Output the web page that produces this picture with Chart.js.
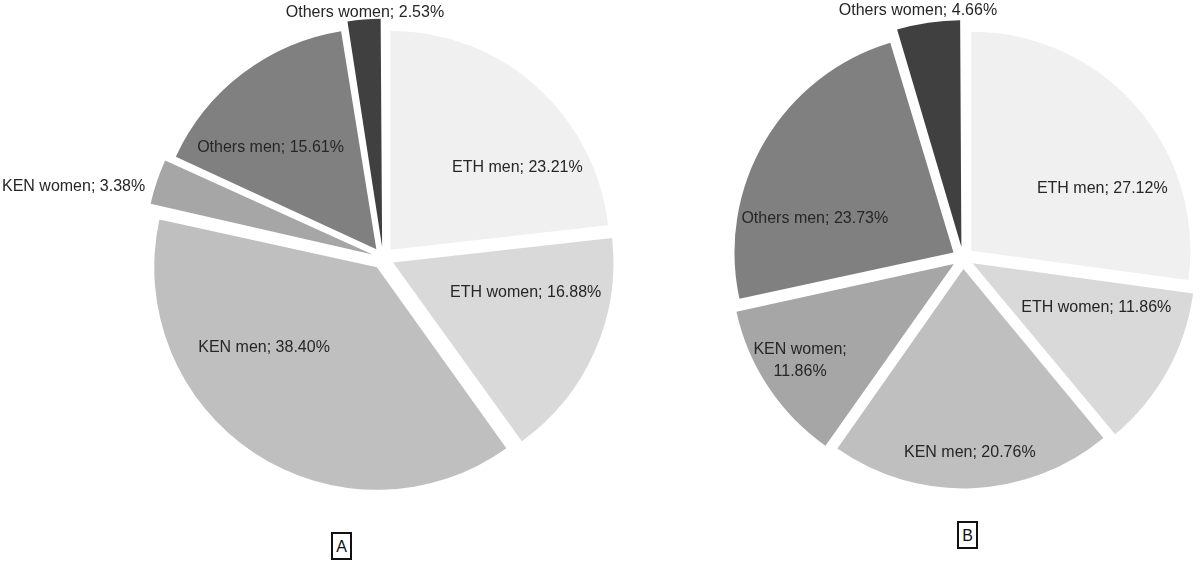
<!DOCTYPE html>
<html>
<head>
<meta charset="utf-8">
<script src="https://cdn.jsdelivr.net/npm/chart.js@4.4.1/dist/chart.umd.min.js"></script>
<style>
  body { margin: 0; background: #fff; width: 1200px; height: 563px; position: relative; overflow: hidden; }
  .pie { position: absolute; top: 0; height: 516px; }
  #wrapA { left: 0; width: 766px; }
  #wrapB { left: 726px; width: 474px; }
  .tag { position: absolute; border: 2px solid #111; font: 16px "Liberation Sans", Arial, sans-serif;
         color: #111; width: 17px; height: 24px; line-height: 25px; text-align: center; }
</style>
</head>
<body>
<div id="wrapA" class="pie"><canvas id="pieA"></canvas></div>
<div id="wrapB" class="pie"><canvas id="pieB"></canvas></div>
<div class="tag" style="left:331px; top:532px;">A</div>
<div class="tag" style="left:957px; top:521px;">B</div>
<script>
// data
const categories = ['ETH men', 'ETH women', 'KEN men', 'KEN women', 'Others men', 'Others women'];
const sharesA = [23.21, 16.88, 38.40, 3.38, 15.61, 2.53];
const sharesB = [27.12, 11.86, 20.76, 11.86, 23.73, 4.66];

const sliceColors = ['#f0f0f0', '#d9d9d9', '#bfbfbf', '#a6a6a6', '#808080', '#404040'];

// where each label sits: [degrees clockwise from top, fraction of radius]
const labelPosA = [[56, 0.74], [103.5, 0.67], [233, 0.68], [283, 1.45], [314.5, 0.72], [355.8, 1.125]];
const labelPosB = [[63.6, 0.71], [110.5, 0.65], [178, 0.89], [237.7, 0.88], [284.8, 0.70], [349.7, 1.15]];
const wrapB = [false, false, false, true, false, false];

const sliceLabels = {
  id: 'sliceLabels',
  afterDatasetsDraw(chart, args, opts) {
    const meta = chart.getDatasetMeta(0);
    const first = meta.data[0];
    const cx = first.x, cy = first.y, r = first.outerRadius;
    const values = chart.data.datasets[0].data;
    const ctx = chart.ctx;
    ctx.save();
    ctx.font = '16px "Liberation Sans", Arial, sans-serif';
    ctx.fillStyle = '#262626';
    ctx.textAlign = 'center';
    ctx.textBaseline = 'middle';
    values.forEach((v, i) => {
      const a = opts.pos[i][0] * Math.PI / 180;
      const d = opts.pos[i][1] * r;
      const x = cx + Math.sin(a) * d;
      const y = cy - Math.cos(a) * d;
      const name = chart.data.labels[i] + ';';
      const pct = v.toFixed(2) + '%';
      if (opts.wrap && opts.wrap[i]) {
        ctx.fillText(name, x, y - 11);
        ctx.fillText(pct, x, y + 11);
      } else {
        ctx.fillText(name + ' ' + pct, x, y);
      }
    });
    ctx.restore();
  }
};

function makePie(id, values, pos, wrap) {
  return new Chart(document.getElementById(id).getContext('2d'), {
    type: 'pie',
    data: {
      labels: categories,
      datasets: [{
        data: values,
        backgroundColor: sliceColors,
        borderWidth: 0,
        offset: 44 // arc draw divides this by 4 -> ~11px explode
      }]
    },
    options: {
      responsive: true,
      maintainAspectRatio: false,
      animation: false,
      radius: 219,
      layout: { padding: 0 },
      plugins: {
        legend: { display: false },
        tooltip: { enabled: false },
        sliceLabels: { pos: pos, wrap: wrap }
      }
    },
    plugins: [sliceLabels]
  });
}

makePie('pieA', sharesA, labelPosA, null);
makePie('pieB', sharesB, labelPosB, wrapB);
</script>
</body>
</html>
